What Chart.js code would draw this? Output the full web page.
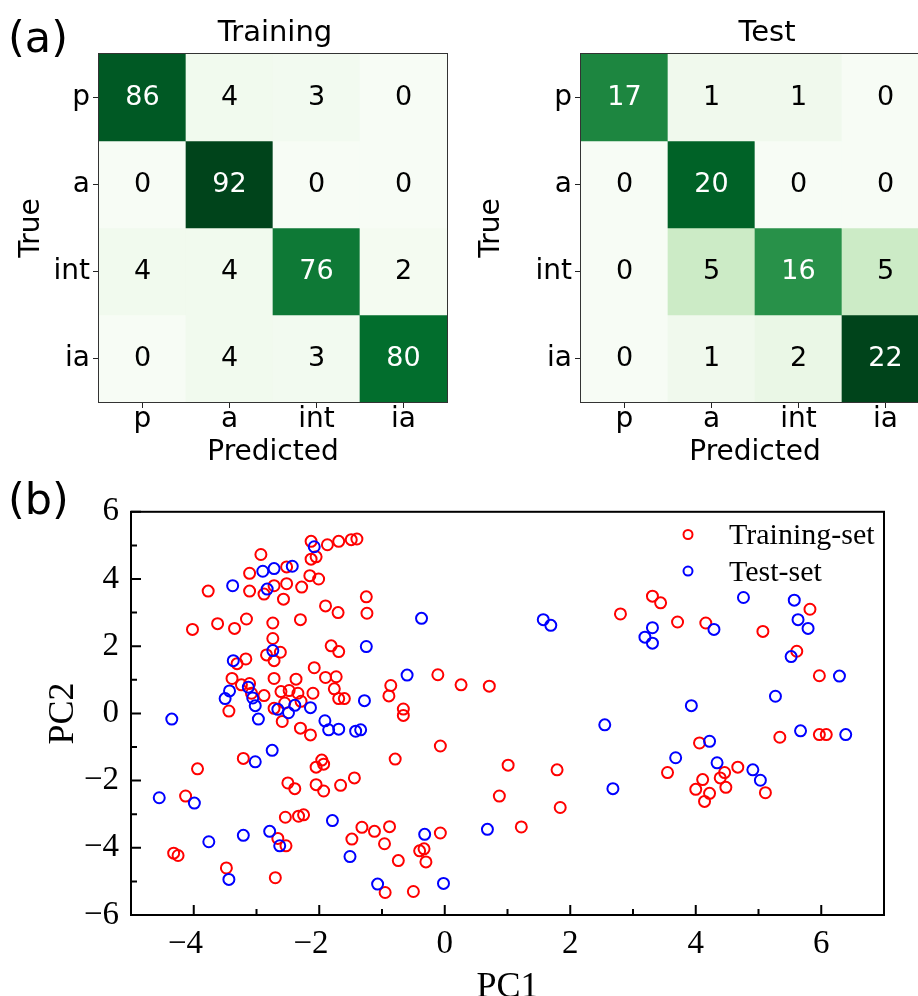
<!DOCTYPE html>
<html>
<head>
<meta charset="utf-8">
<script src="https://cdn.jsdelivr.net/npm/chart.js"></script>
<style>
  html, body { margin: 0; padding: 0; width: 918px; height: 996px; overflow: hidden; background: #fff; }
  canvas { position: absolute; }
  .tag { position: absolute; font-family: 'DejaVu Sans'; font-size: 43px; line-height: 43px; color: #000; z-index: 2; }
</style>
</head>
<body>
<div class="tag" style="left:8px; top:16px">(a)</div>
<div class="tag" style="left:8px; top:478px">(b)</div>
<canvas id="trainCm" width="460" height="480" style="left:0; top:0"></canvas>
<canvas id="testCm" width="480" height="480" style="left:460px; top:0"></canvas>
<canvas id="pca" width="918" height="540" style="left:0; top:480px"></canvas>
<script>
// confusion matrices (rows = true, cols = predicted)
var classes = ["p", "a", "int", "ia"];
var trainMatrix = [
  [86, 4, 3, 0],
  [0, 92, 0, 0],
  [4, 4, 76, 2],
  [0, 4, 3, 80]
];
var testMatrix = [
  [17, 1, 1, 0],
  [0, 20, 0, 0],
  [0, 5, 16, 5],
  [0, 1, 2, 22]
];

// PCA scores
var trainX = [-2.13, -1.87, -1.69, -1.49, -1.40, -2.93, -2.13, -2.05, -3.11, -2.52,
  -2.15, -2.01, -3.77, -3.11, -2.88, -2.72, -2.52, -2.28, -2.57, -1.25,
  -1.24, -1.90, -1.70, -4.02, -3.62, -3.35, -3.16, -2.74, -2.30, -2.74,
  -2.84, -2.62, -2.72, -3.31, -3.17, -1.81, -1.69, -2.08, -3.39, -3.24,
  -3.11, -2.72, -2.37, -1.90, -1.73, -3.44, -3.08, -2.88, -2.61, -2.48,
  -2.34, -2.29, -2.10, -1.76, -1.69, -1.60, -2.72, -2.55, -2.59, -2.30,
  -2.14, -3.21, -3.94, -2.05, -1.96, -1.93, -2.50, -2.39, -2.05, -1.93,
  -1.66, -1.44, -4.13, -2.54, -2.33, -2.25, -1.32, -1.12, -1.48, -2.66,
  -2.53, -4.32, -4.25, -3.48, -2.70, 2.80, -0.11, 0.26, 0.71, -0.86,
  -0.89, -0.66, -0.66, -0.07, -0.79, 1.01, 1.79, 0.87, 1.84, -0.88,
  -0.07, 1.22, -0.96, -0.40, -0.33, -0.74, -0.30, -0.95, -0.50, 3.31,
  3.44, 3.71, 4.16, 5.82, 5.07, 5.61, 5.97, 5.34, 5.97, 6.08,
  4.06, 3.55, 4.46, 4.67, 4.39, 4.11, 4.00, 4.48, 4.22, 4.14, 5.11];
var trainY = [5.12, 5.02, 5.12, 5.17, 5.19, 4.73, 4.59, 4.66, 4.17, 4.36,
  4.10, 4.00, 3.64, 3.64, 3.55, 3.80, 3.86, 3.76, 3.40, 3.47,
  2.98, 3.20, 3.00, 2.50, 2.67, 2.53, 2.81, 2.69, 2.79, 2.23,
  1.74, 1.82, 1.57, 1.48, 1.62, 2.01, 1.84, 1.36, 1.04, 0.85,
  0.89, 1.04, 1.02, 1.07, 1.09, 0.07, 0.60, 0.53, 0.65, 0.68,
  0.60, 0.36, 0.60, 0.73, 0.44, 0.44, 0.15, 0.31, -0.24, -0.44,
  -0.64, -1.34, -1.65, -1.60, -1.39, -1.51, -2.07, -2.24, -2.12, -2.31,
  -2.14, -1.92, -2.46, -3.09, -3.06, -3.02, -3.39, -3.51, -3.74, -3.72,
  -3.94, -4.16, -4.23, -4.60, -4.89, 2.96, 1.15, 0.85, 0.81, 0.83,
  0.52, 0.13, -0.06, -0.97, -1.36, -1.54, -1.68, -2.46, -2.80, -3.37,
  -3.56, -3.38, -3.88, -4.09, -4.03, -4.38, -4.42, -5.33, -5.30, 3.49,
  3.29, 2.72, 2.69, 3.10, 2.44, 1.85, 1.12, -0.71, -0.63, -0.63,
  -0.88, -1.76, -1.76, -1.60, -1.92, -1.97, -2.26, -2.20, -2.38, -2.62, -2.36];
var testX = [-2.08, -2.90, -2.72, -2.43, -3.38, -2.83, -2.74, -3.37, -1.25, -3.43,
  -3.50, -3.13, -3.06, -3.02, -2.97, -2.39, -2.66, -2.49, -2.14, -1.28,
  -1.91, -4.35, -1.85, -1.69, -1.42, -1.34, -3.02, -2.75, -4.55, -3.99,
  -1.79, -3.76, -3.21, -2.79, -2.63, -1.51, -3.44, -0.37, 1.57, 1.69,
  -0.60, 2.55, 2.68, -0.32, 0.68, -1.07, -0.02, 4.29, 3.31, 3.19,
  3.31, 4.76, 5.57, 5.63, 5.79, 5.52, 6.29, 5.27, 3.93, 5.67,
  6.39, 4.22, 3.68, 4.34, 4.91, 5.03];
var testY = [4.96, 4.23, 4.31, 4.38, 3.80, 3.70, 1.87, 1.57, 1.99, 0.67,
  0.44, 0.78, 0.46, 0.23, -0.17, 0.24, 0.12, 0.02, 0.17, 0.38,
  -0.22, -0.17, -0.49, -0.47, -0.53, -0.49, -1.44, -1.10, -2.51, -2.67,
  -3.19, -3.82, -3.63, -3.51, -3.94, -4.26, -4.94, 2.83, 2.79, 2.62,
  1.14, -0.34, -2.24, -3.60, -3.45, -5.08, -5.06, 2.50, 2.55, 2.27,
  2.09, 3.45, 3.37, 2.79, 2.53, 1.69, 1.11, 0.51, 0.23, -0.52,
  -0.63, -0.83, -1.32, -1.47, -1.68, -1.99];
var xTickLabels = [-4, -2, 0, 2, 4, 6];
var yTickLabels = [-6, -4, -2, 0, 2, 4, 6];

// matplotlib "Greens" colormap stops
var greens = ["#f7fcf5", "#e5f5e0", "#c7e9c0", "#a1d99b", "#74c476", "#41ab5d", "#238b45", "#006d2c", "#00441b"];

function hexRgb(c) {
  return [parseInt(c.slice(1, 3), 16), parseInt(c.slice(3, 5), 16), parseInt(c.slice(5, 7), 16)];
}

function greenFor(t) {
  var p = Math.max(0, Math.min(1, t)) * (greens.length - 1);
  var i = Math.min(Math.floor(p), greens.length - 2), f = p - i;
  var a = hexRgb(greens[i]), b = hexRgb(greens[i + 1]);
  return "rgb(" + a.map(function(v, k) { return Math.round(v + (b[k] - v) * f); }).join(",") + ")";
}

function signed(v) {
  return v < 0 ? "\u2212" + Math.abs(v) : String(v);
}

var sans = "DejaVu Sans";
var serif = "Liberation Serif";

// numbers in the cells, frame and panel title
var cmPlugin = {
  id: "cmText",
  afterDatasetsDraw: function(chart, args, opts) {
    var ctx = chart.ctx, xs = chart.scales.x, ys = chart.scales.y, a = chart.chartArea;
    ctx.save();
    ctx.font = "27px '" + sans + "'";
    ctx.textAlign = "center";
    ctx.textBaseline = "middle";
    opts.matrix.forEach(function(row, r) {
      row.forEach(function(v, c) {
        ctx.fillStyle = v > opts.max / 2 ? "#fff" : "#000";
        ctx.fillText(String(v), xs.getPixelForValue(c), ys.getPixelForValue(r));
      });
    });
    ctx.strokeStyle = "#333";
    ctx.lineWidth = 1;
    ctx.strokeRect(a.left - 0.5, a.top - 0.5, a.right - a.left + 1, a.bottom - a.top + 1);
    ctx.font = "29px '" + sans + "'";
    ctx.fillStyle = "#000";
    ctx.textBaseline = "alphabetic";
    ctx.fillText(opts.title, opts.titleX, 41);
    ctx.restore();
  }
};

function cmChart(id, title, matrix, axisWidth, padRight, titleX) {
  var max = Math.max.apply(null, matrix.map(function(r) { return Math.max.apply(null, r); }));
  var datasets = matrix.map(function(row, r) {
    return {
      data: row.map(function() { return [r - 0.5, r + 0.5]; }),
      backgroundColor: row.map(function(v) { return greenFor(v / max); }),
      borderWidth: 0,
      grouped: false,
      barPercentage: 1,
      categoryPercentage: 1
    };
  });
  return new Chart(id, {
    type: "bar",
    data: { labels: classes, datasets: datasets },
    options: {
      responsive: false,
      animation: false,
      layout: { padding: { top: 54, right: padRight, left: 0, bottom: 0 } },
      plugins: {
        legend: { display: false },
        tooltip: { enabled: false },
        cmText: { matrix: matrix, max: max, title: title, titleX: titleX }
      },
      scales: {
        x: {
          grid: { offset: false, drawOnChartArea: false, tickLength: 6, color: "#222" },
          border: { display: false },
          ticks: { font: { family: sans, size: 28, lineHeight: 0.85 }, color: "#000", padding: 0, maxRotation: 0 },
          title: { display: true, text: "Predicted", font: { family: sans, size: 28 }, color: "#000", padding: { top: 0, bottom: 10.7 } },
          afterFit: function(s) { s.height = 78; }
        },
        y: {
          min: -0.5,
          max: 3.5,
          reverse: true,
          afterBuildTicks: function(s) { s.ticks = classes.map(function(c, i) { return { value: i }; }); },
          grid: { drawOnChartArea: false, tickLength: 6, color: "#222" },
          border: { display: false },
          ticks: { callback: function(v) { return classes[v]; }, font: { family: sans, size: 28 }, color: "#000", padding: 3 },
          title: { display: true, text: "True", font: { family: sans, size: 28 }, color: "#000", padding: { top: 15, bottom: 0 } },
          afterFit: function(s) { s.width = axisWidth; }
        }
      }
    },
    plugins: [cmPlugin]
  });
}

cmChart("trainCm", "Training", trainMatrix, 99, 13, 275);
cmChart("testCm", "Test", testMatrix, 121, 11, 307);

// inward ticks, frame and legend for the scatter
var pcaPlugin = {
  id: "pcaFrame",
  afterDatasetsDraw: function(chart, args, opts) {
    var ctx = chart.ctx, a = chart.chartArea, xs = chart.scales.x, ys = chart.scales.y;
    ctx.save();
    ctx.strokeStyle = "#000";
    ctx.lineWidth = 2;
    ctx.strokeRect(a.left, a.top, a.right - a.left, a.bottom - a.top);
    ctx.beginPath();
    xs.ticks.forEach(function(t) {
      var px = xs.getPixelForValue(t.value);
      var len = xTickLabels.indexOf(t.value) >= 0 ? 10 : 6;
      ctx.moveTo(px, a.bottom);
      ctx.lineTo(px, a.bottom - len);
    });
    ys.ticks.forEach(function(t) {
      var py = ys.getPixelForValue(t.value);
      var len = yTickLabels.indexOf(t.value) >= 0 ? 10 : 6;
      ctx.moveTo(a.left, py);
      ctx.lineTo(a.left + len, py);
    });
    ctx.stroke();

    ctx.font = "30px '" + serif + "'";
    ctx.textAlign = "left";
    ctx.textBaseline = "alphabetic";
    chart.data.datasets.forEach(function(ds, i) {
      var cy = a.top + 22.7 + i * 36.6;
      ctx.beginPath();
      ctx.lineWidth = 2;
      ctx.strokeStyle = ds.borderColor;
      ctx.arc(a.right - 196, cy, 4.5, 0, Math.PI * 2);
      ctx.stroke();
      ctx.fillStyle = "#000";
      ctx.fillText(ds.label, a.right - 155, cy + 9.5);
    });
    ctx.restore();
  }
};

new Chart("pca", {
  type: "scatter",
  data: {
    datasets: [{
      label: "Training-set",
      data: trainX.map(function(x, i) { return { x: x, y: trainY[i] }; }),
      borderColor: "#ff0000",
      backgroundColor: "rgba(0,0,0,0)",
      pointRadius: 5.5,
      borderWidth: 2,
      order: 1
    }, {
      label: "Test-set",
      data: testX.map(function(x, i) { return { x: x, y: testY[i] }; }),
      borderColor: "#0000ff",
      backgroundColor: "rgba(0,0,0,0)",
      pointRadius: 5.5,
      borderWidth: 2,
      order: 0
    }]
  },
  options: {
    responsive: false,
    animation: false,
    layout: { padding: { top: 23, right: 34, left: 0, bottom: 0 } },
    plugins: {
      legend: { display: false },
      tooltip: { enabled: false }
    },
    scales: {
      x: {
        type: "linear",
        min: -5,
        max: 7,
        grid: { display: false, drawTicks: false },
        border: { display: false },
        ticks: {
          stepSize: 1,
          autoSkip: false,
          maxRotation: 0,
          // digits sit on the tick, the minus sign hangs to the left
          callback: function(v) {
            if (xTickLabels.indexOf(v) < 0) return "";
            return v < 0 ? signed(v) + "\u2002" : signed(v);
          },
          font: { family: serif, size: 33 },
          color: "#000",
          padding: 10
        },
        title: { display: true, text: "PC1", font: { family: serif, size: 36 }, color: "#000", padding: { top: 0, bottom: 11 } },
        afterFit: function(s) { s.height = 105; }
      },
      y: {
        min: -6,
        max: 6,
        grid: { display: false, drawTicks: false },
        border: { display: false },
        ticks: {
          stepSize: 1,
          autoSkip: false,
          callback: function(v) { return yTickLabels.indexOf(v) >= 0 ? signed(v) : ""; },
          font: { family: serif, size: 33 },
          color: "#000",
          padding: 12
        },
        title: { display: true, text: "PC2", font: { family: serif, size: 36 }, color: "#000", padding: { top: 42, bottom: 0 } },
        afterFit: function(s) { s.width = 131; }
      }
    }
  },
  plugins: [pcaPlugin]
});
</script>
</body>
</html>
